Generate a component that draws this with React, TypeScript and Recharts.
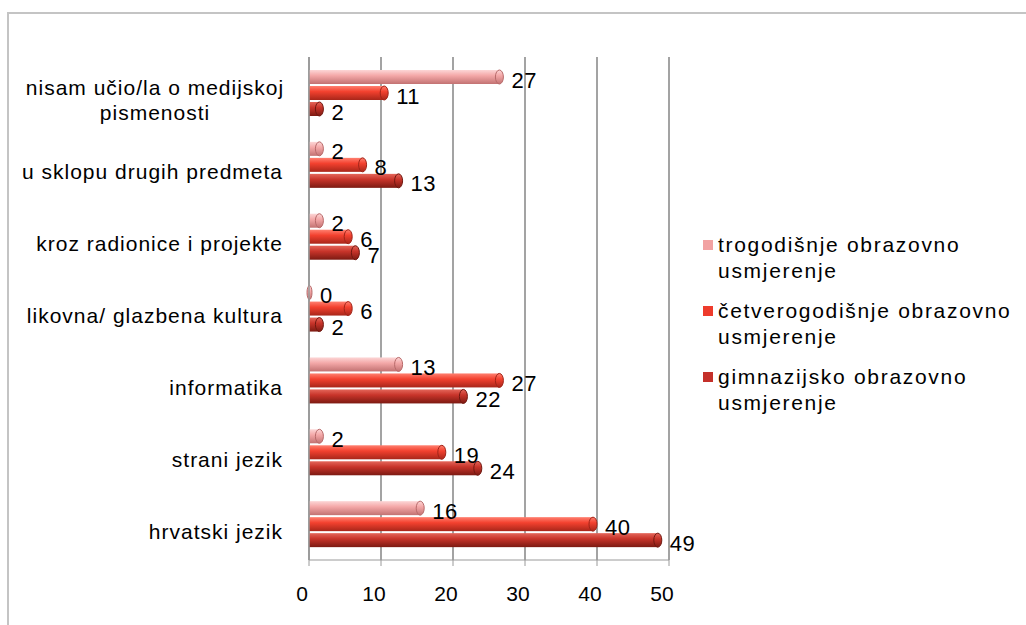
import React from "react";
import { BarChart, Bar, XAxis, YAxis, CartesianGrid, Legend, LabelList } from "recharts";

const categories = [
  "nisam učio/la o medijskoj\npismenosti",
  "u sklopu drugih predmeta",
  "kroz radionice i projekte",
  "likovna/ glazbena kultura",
  "informatika",
  "strani jezik",
  "hrvatski jezik",
];
const trogodisnje = [27, 2, 2, 0, 13, 2, 16];
const cetverogodisnje = [11, 8, 6, 6, 27, 19, 40];
const gimnazijsko = [2, 13, 7, 2, 22, 24, 49];
const xTicks = [0, 10, 20, 30, 40, 50];
const seriesNames = [
  "trogodišnje obrazovno\nusmjerenje",
  "četverogodišnje obrazovno\nusmjerenje",
  "gimnazijsko obrazovno\nusmjerenje",
];

const data = categories.map((c, i) => ({
  cat: c,
  tro: trogodisnje[i],
  cet: cetverogodisnje[i],
  gim: gimnazijsko[i],
}));

const FONT = "'Liberation Sans', Arial, sans-serif";

const makeCyl = (grad: string, cap: string) => (props: any) => {
  const { x, y, width, height } = props;
  if (width == null || height == null || isNaN(x) || isNaN(y)) return <g />;
  const rx = Math.min(4, Math.max(width, 0) / 2 + 1);
  const bodyW = Math.max(width - rx, 0);
  return (
    <g>
      <rect x={x} y={y} width={bodyW} height={height} fill={`url(#${grad})`} />
      <ellipse cx={x + bodyW} cy={y + height / 2} rx={rx} ry={height / 2} fill={`url(#${grad})`} stroke={cap} strokeWidth={1} />
    </g>
  );
};

const YTick = (props: any) => {
  const { x, y, payload } = props;
  const lines: string[] = String(payload.value).split("\n");
  if (lines.length === 1) {
    return (
      <text x={x} y={y + 7} textAnchor="end" dominantBaseline="central" fontSize={21} letterSpacing={1} fill="#000" fontFamily={FONT}>
        {lines[0]}
      </text>
    );
  }
  const cx = x - 128;
  return (
    <text textAnchor="middle" fontSize={21} letterSpacing={1} fill="#000" fontFamily={FONT}>
      {lines.map((l, i) => (
        <tspan key={i} x={cx} y={y + 7 + (i - (lines.length - 1) / 2) * 25} dominantBaseline="central">
          {l}
        </tspan>
      ))}
    </text>
  );
};

const ValueLabel = (props: any) => {
  const vb = props.viewBox && props.viewBox.width != null ? props.viewBox : props;
  const { x, y, width, height } = vb;
  return (
    <text x={x + width + 8} y={y + height / 2 + 3} dominantBaseline="central" fontSize={22} letterSpacing={0.5} fill="#000" fontFamily={FONT}>
      {props.value}
    </text>
  );
};

const legendColors = ["#f2a2a2", "#ee3b2c", "#c4302a"];

const LegendContent = () => (
  <div style={{ fontFamily: FONT }}>
    {seriesNames.map((n, i) => (
      <div key={i} style={{ display: "flex", alignItems: "flex-start", marginBottom: 14 }}>
        <div style={{ width: 10, height: 10, background: legendColors[i], marginTop: 8, marginRight: 5, flex: "none" }} />
        <div style={{ fontSize: 21, letterSpacing: 1.7, lineHeight: "26px", whiteSpace: "pre-line", color: "#000" }}>{n}</div>
      </div>
    ))}
  </div>
);

export default function App() {
  return (
    <div style={{ position: "absolute", left: 0, top: 0, width: 1026, height: 625, overflow: "hidden", background: "#fff" }}>
      <div style={{ position: "absolute", left: 7, top: 12, width: 1060, height: 700, border: "2px solid #c4c4c4" }} />
      <div style={{ position: "absolute", left: 0, top: 0 }}>
        <BarChart
          width={1026}
          height={625}
          data={data}
          layout="vertical"
          margin={{ top: 57, right: 357, bottom: 25, left: 0 }}
          barSize={14}
          barGap={2}
        >
          <defs>
            <linearGradient id="gPink" x1="0" y1="0" x2="0" y2="1">
              <stop offset="0" stopColor="#fcd6d6" />
              <stop offset="0.4" stopColor="#f4a8a8" />
              <stop offset="1" stopColor="#c27272" />
            </linearGradient>
            <linearGradient id="gRed" x1="0" y1="0" x2="0" y2="1">
              <stop offset="0" stopColor="#ff8070" />
              <stop offset="0.4" stopColor="#f3412f" />
              <stop offset="1" stopColor="#a8261a" />
            </linearGradient>
            <linearGradient id="gDark" x1="0" y1="0" x2="0" y2="1">
              <stop offset="0" stopColor="#e4665a" />
              <stop offset="0.4" stopColor="#c8342a" />
              <stop offset="1" stopColor="#7c1a12" />
            </linearGradient>
          </defs>
          <CartesianGrid horizontal={false} vertical stroke="#8c8c8c" strokeWidth={1.6} />
          <XAxis
            type="number"
            domain={[0, 50]}
            ticks={xTicks}
            height={40}
            axisLine={{ stroke: "#9a9a9a" }}
            tickLine={{ stroke: "#9a9a9a" }}
            tickSize={6}
            tickMargin={20}
            tick={{ fontSize: 21, fill: "#000", fontFamily: FONT, dx: -7 }}
          />
          <YAxis
            type="category"
            dataKey="cat"
            width={309}
            axisLine={{ stroke: "#9a9a9a", strokeWidth: 1.5 }}
            tickLine={false}
            tickSize={0}
            tickMargin={26}
            tick={<YTick />}
            interval={0}
          />
          <Legend
            layout="vertical"
            align="center"
            verticalAlign="middle"
            wrapperStyle={{ left: 703, top: 232, width: 320 }}
            content={<LegendContent />}
          />
          <Bar dataKey="tro" name={seriesNames[0]} fill={legendColors[0]} isAnimationActive={false} minPointSize={3} shape={makeCyl("gPink", "#b86a6a")}>
            <LabelList dataKey="tro" content={<ValueLabel />} />
          </Bar>
          <Bar dataKey="cet" name={seriesNames[1]} fill={legendColors[1]} isAnimationActive={false} shape={makeCyl("gRed", "#a02418")}>
            <LabelList dataKey="cet" content={<ValueLabel />} />
          </Bar>
          <Bar dataKey="gim" name={seriesNames[2]} fill={legendColors[2]} isAnimationActive={false} shape={makeCyl("gDark", "#701810")}>
            <LabelList dataKey="gim" content={<ValueLabel />} />
          </Bar>
        </BarChart>
      </div>
    </div>
  );
}
